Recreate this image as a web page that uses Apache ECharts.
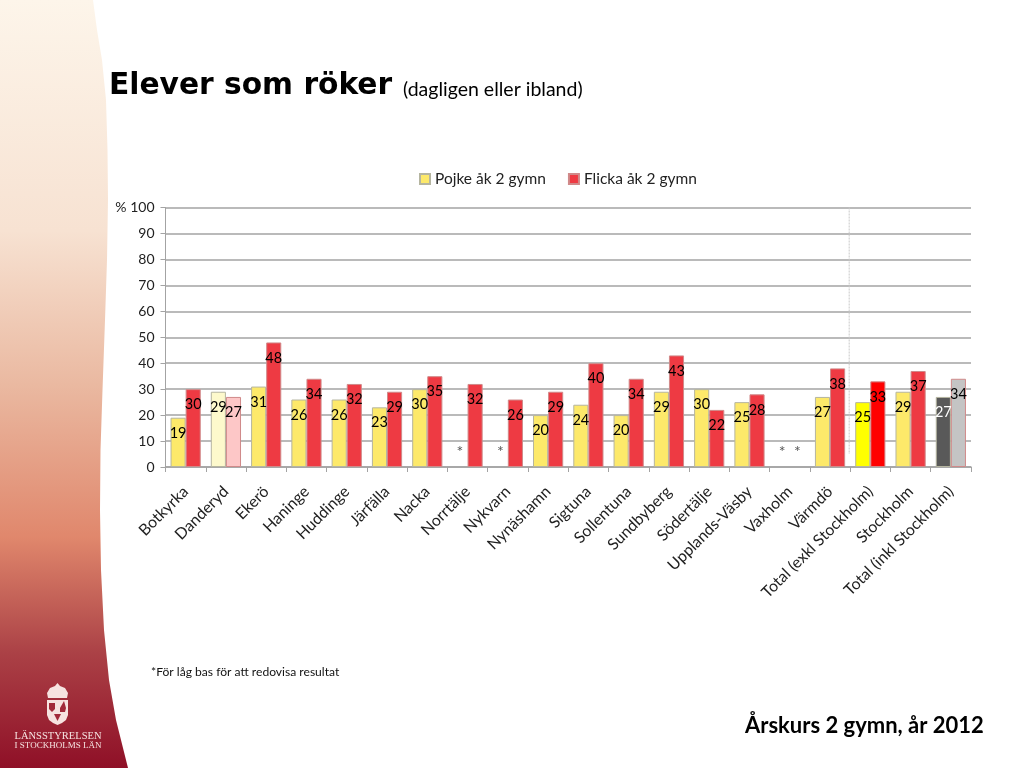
<!DOCTYPE html>
<html><head><meta charset="utf-8">
<style>html,body{margin:0;padding:0;background:#fff}#c{width:1024px;height:768px}</style>
<script src="https://cdn.jsdelivr.net/npm/echarts@6/dist/echarts.min.js"></script>
</head><body><div id="c"></div>
<script>
const categories = ['Botkyrka','Danderyd','Ekerö','Haninge','Huddinge','Järfälla','Nacka','Norrtälje','Nykvarn','Nynäshamn','Sigtuna','Sollentuna','Sundbyberg','Södertälje','Upplands-Väsby','Vaxholm','Värmdö','Total (exkl Stockholm)','Stockholm','Total (inkl Stockholm)'];
const boys  = [19,29,31,26,26,23,30,null,null,20,24,20,29,30,25,null,27,25,29,27];
const girls = [30,27,48,34,32,29,35,32,26,29,40,34,43,22,28,null,38,33,37,34];
const boyColors  = {1:'#fdf9cc',17:'#ffff00',19:'#595959'};
const girlColors = {1:'#fdc7c7',17:'#ff0000',19:'#c4c4c4'};
const labelColors = {19:'#ffffff'};
const font = 'Lato';
const grey = '#a3a3a3';

function items(values, colors, base, isBoy){
  return values.map((v,i)=>{
    if(v===null) return {value:0,itemStyle:{color:'transparent',borderWidth:0},label:{show:true,formatter:'*',position:'top',distance:7,color:'#555',fontSize:16}};
    const o={value:v,itemStyle:{color:colors[i]||base}};
    if(isBoy&&labelColors[i]) o.label={color:labelColors[i]};
    return o;
  });
}
const barLabel={show:true,position:'insideTop',distance:8,color:'#000',fontFamily:font,fontSize:14.5,formatter:p=>p.value};
const edge=[[0,0],[93,0],[97,30],[102,60],[106,100],[107.5,150],[108,200],[107,260],[105,320],[102.5,390],[100.5,450],[100,510],[101,570],[104,630],[109,680],[116,720],[128,768],[0,768]];
const shield=[[47,700],[68,700],[68,715],[66,720],[62,723],[57.5,725],[53,723],[49,720],[47,715]];
const crown=[[48,698],[47,693],[50,688],[55,686],[57.5,683],[60,686],[65,688],[68,693],[67,698]];
const chart=echarts.init(document.getElementById('c'),null,{renderer:'canvas'});
const T=(text,left,top,size,weight,color,fam)=>({text,left,top,padding:0,textStyle:{fontFamily:fam||font,fontWeight:weight,fontSize:size,color}});
chart.setOption({
  animation:false,
  title:[
    T('Elever som röker',109,71,29.7,700,'#000','DejaVu Sans'),
    T('(dagligen eller ibland)',403,80,19.5,400,'#000'),
    T('*För låg bas för att redovisa resultat',151,666,12.1,400,'#111'),
    T('Årskurs 2 gymn, år 2012',745,715,22,700,'#000')
  ],
  legend:{left:414,top:166,itemWidth:10,itemHeight:10,itemGap:22,icon:'rect',
    textStyle:{fontFamily:font,fontSize:15.5,color:'#222'},
    data:['Pojke åk 2 gymn','Flicka åk 2 gymn']},
  grid:{left:165.5,top:207.5,width:805.5,height:259.5},
  xAxis:{type:'category',data:categories,
    axisLine:{lineStyle:{color:grey,width:1.5}},
    axisTick:{show:true,length:5,lineStyle:{color:grey}},
    axisLabel:{interval:0,rotate:45,margin:22,fontFamily:font,fontSize:15.8,color:'#222'}},
  yAxis:{type:'value',min:0,max:100,interval:10,
    axisLine:{show:true,lineStyle:{color:grey,width:1}},
    axisTick:{show:true,length:5,lineStyle:{color:grey}},
    splitLine:{lineStyle:{color:grey,width:1.5}},
    axisLabel:{margin:11,fontFamily:font,fontSize:14,color:'#222',formatter:v=>v===100?'% 100':String(v)}},
  series:[
    {name:'Pojke åk 2 gymn',type:'bar',barGap:0,barCategoryGap:'25%',z:3,
     itemStyle:{color:'#fde96a',borderColor:'#b5b5a0',borderWidth:1},label:barLabel,
     data:items(boys,boyColors,'#fde96a',true)},
    {name:'Flicka åk 2 gymn',type:'bar',z:3,
     itemStyle:{color:'#ee3a43',borderColor:'#d08a8a',borderWidth:1},label:barLabel,
     data:items(girls,girlColors,'#ee3a43',false)}
  ],
  graphic:[
    {id:'bg',type:'polygon',z:-10,silent:true,shape:{points:edge},
     style:{fill:new echarts.graphic.LinearGradient(0,0,0,1,[
       {offset:0,color:'#fdf5ea'},{offset:.3,color:'#f7e2d2'},{offset:.5,color:'#eab9a1'},
       {offset:.7,color:'#e0876c'},{offset:.85,color:'#ab4146'},{offset:1,color:'#8f1027'}])}},
    {id:'sh',type:'polygon',z:-9,silent:true,shape:{points:shield},style:{fill:'#f6e3e0'}},
    {id:'cr',type:'polygon',z:-9,silent:true,shape:{points:crown},style:{fill:'#f6e3e0'}},
    {id:'a1',type:'polygon',z:-8,silent:true,shape:{points:[[49,703],[55,703],[55,709],[52,712],[49,709]]},style:{fill:'#a12a3a'}},
    {id:'a2',type:'polygon',z:-8,silent:true,shape:{points:[[60,708],[64,701],[66,708],[65,712],[60,712]]},style:{fill:'#a12a3a'}},
    {id:'a3',type:'polygon',z:-8,silent:true,shape:{points:[[54,714],[61,714],[57.5,721]]},style:{fill:'#a12a3a'}},
    {id:'t1',type:'text',z:-8,silent:true,style:{text:'LÄNSSTYRELSEN',x:58,y:736,align:'center',verticalAlign:'middle',fill:'#f6e4e2',font:'10.5px "Liberation Serif"'}},
    {id:'t2',type:'text',z:-8,silent:true,style:{text:'I STOCKHOLMS LÄN',x:58,y:746,align:'center',verticalAlign:'middle',fill:'#f6e4e2',font:'9px "Liberation Serif"'}}
  ]
});
const a=chart.convertToPixel({xAxisIndex:0},16), b=chart.convertToPixel({xAxisIndex:0},17);
const top100=chart.convertToPixel({yAxisIndex:0},100), y5=chart.convertToPixel({yAxisIndex:0},5);
const ex=(a+b)/2-1;
chart.setOption({graphic:[{id:'divider',type:'line',z:2,silent:true,shape:{x1:ex,y1:top100,x2:ex,y2:y5},style:{stroke:'#c8c8c8',lineWidth:1,lineDash:[2,1]}}]});
</script></body></html>
